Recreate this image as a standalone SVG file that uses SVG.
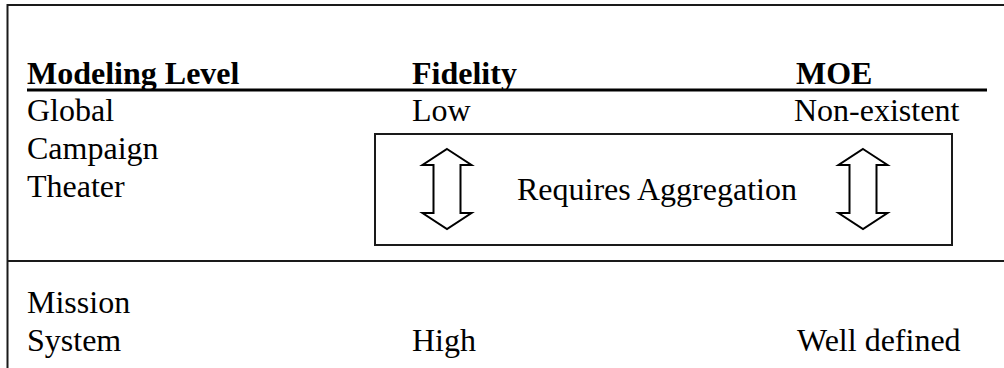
<svg xmlns="http://www.w3.org/2000/svg" width="1004" height="368" viewBox="0 0 1004 368">
  <style>
    .t { font-family: 'Liberation Serif', serif; font-size: 32px; fill: #000; }
    .h { font-weight: bold; }
    .line { stroke: #1a1a1a; stroke-width: 2; fill: none; }
    .arrow { fill: #fff; stroke: #000; stroke-width: 2; stroke-linejoin: miter; }
  </style>
  <g id="frame">
    <path class="line" d="M1010,5 H7.5 V370"/>
    <line class="line" x1="7.5" y1="261" x2="1010" y2="261"/>
  </g>
  <g id="header">
    <text class="t h" font-family="Liberation Serif, serif" x="27" y="84">Modeling Level</text>
    <text class="t h" font-family="Liberation Serif, serif" x="412" y="84">Fidelity</text>
    <text class="t h" font-family="Liberation Serif, serif" x="796" y="84">MOE</text>
    <line x1="27" y1="90" x2="987" y2="90" stroke="#000" stroke-width="3"/>
  </g>
  <g id="levels-upper">
    <text class="t" font-family="Liberation Serif, serif" x="27" y="121">Global</text>
    <text class="t" font-family="Liberation Serif, serif" x="27" y="159">Campaign</text>
    <text class="t" font-family="Liberation Serif, serif" x="27" y="197">Theater</text>
  </g>
  <g id="fidelity-low">
    <text class="t" font-family="Liberation Serif, serif" x="412" y="121">Low</text>
  </g>
  <g id="moe-low">
    <text class="t" font-family="Liberation Serif, serif" x="794" y="121">Non-existent</text>
  </g>
  <g id="aggregation">
    <rect class="line" x="375" y="134" width="577" height="111"/>
    <text class="t" font-family="Liberation Serif, serif" x="517" y="200">Requires Aggregation</text>
  </g>
  <g id="connectors">
    <path class="arrow" d="M447,149 L471.5,165 L460.5,165 L460.5,213 L471.5,213 L447,229 L422.5,213 L433.5,213 L433.5,165 L422.5,165 Z"/>
    <path class="arrow" d="M863,149 L887.5,165 L876.5,165 L876.5,213 L887.5,213 L863,229 L838.5,213 L849.5,213 L849.5,165 L838.5,165 Z"/>
  </g>
  <g id="levels-lower">
    <text class="t" font-family="Liberation Serif, serif" x="27" y="313">Mission</text>
    <text class="t" font-family="Liberation Serif, serif" x="27" y="351">System</text>
  </g>
  <g id="fidelity-high">
    <text class="t" font-family="Liberation Serif, serif" x="412" y="351">High</text>
  </g>
  <g id="moe-high">
    <text class="t" font-family="Liberation Serif, serif" x="797" y="351">Well defined</text>
  </g>
</svg>
